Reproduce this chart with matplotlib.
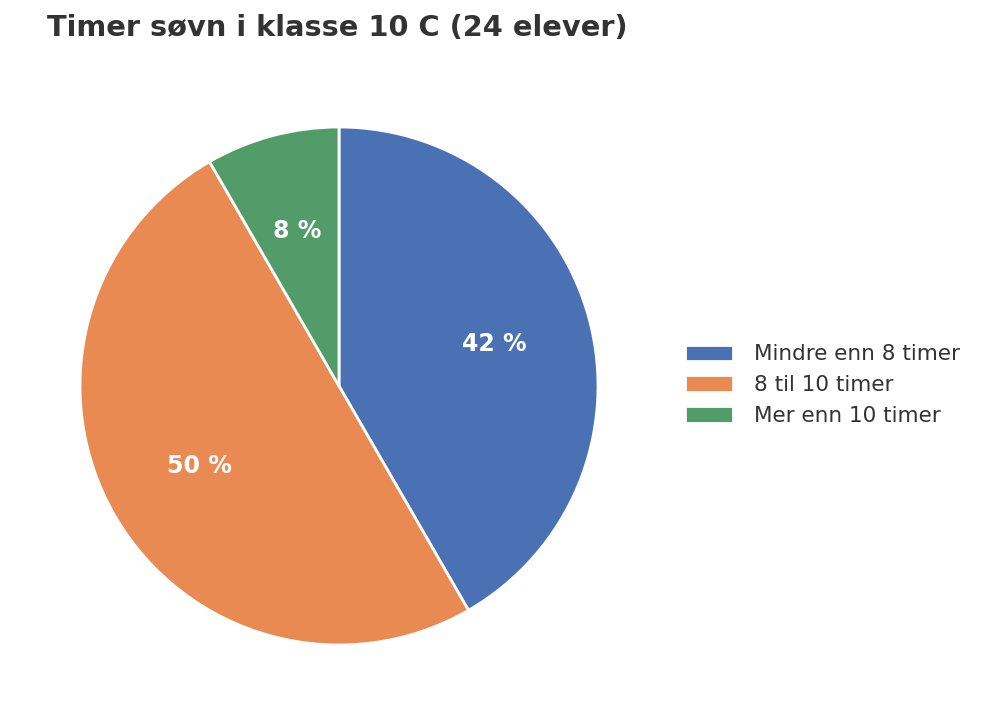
import matplotlib
matplotlib.use("Agg")
import matplotlib.pyplot as plt

categories = ["Mindre enn 8 timer", "8 til 10 timer", "Mer enn 10 timer"]
counts = [10, 12, 2]
colors = ["#4a71b4", "#e88a52", "#529c69"]

fig = plt.figure(figsize=(9.91, 7.26), dpi=100)
W = 647.5
ax = fig.add_axes([(339 - W/2)/991, (726 - 386 - W/2)/726, W/991, W/726])
wedges, texts, autotexts = ax.pie(
    counts, colors=colors, startangle=90, counterclock=False,
    autopct=lambda p: f"{p:.0f} %", pctdistance=0.62,
    wedgeprops=dict(edgecolor="white", linewidth=2),
    textprops=dict(color="white", fontsize=17, fontweight="bold"))
ax.set_aspect("equal")
fig.text(47/991, 1 - 28/726, "Timer søvn i klasse 10 C (24 elever)", fontsize=20.8,
         fontweight="bold", color="#333333", va="center", ha="left")
leg = fig.legend(wedges, categories, loc="center left", bbox_to_anchor=(666/991, 1 - 385/726),
                 frameon=False, fontsize=15.5, handlelength=2.2, handleheight=0.8,
                 labelspacing=0.5, handletextpad=1.0)
for t in leg.get_texts():
    t.set_color("#333333")
fig.savefig("out.png", dpi=100)
